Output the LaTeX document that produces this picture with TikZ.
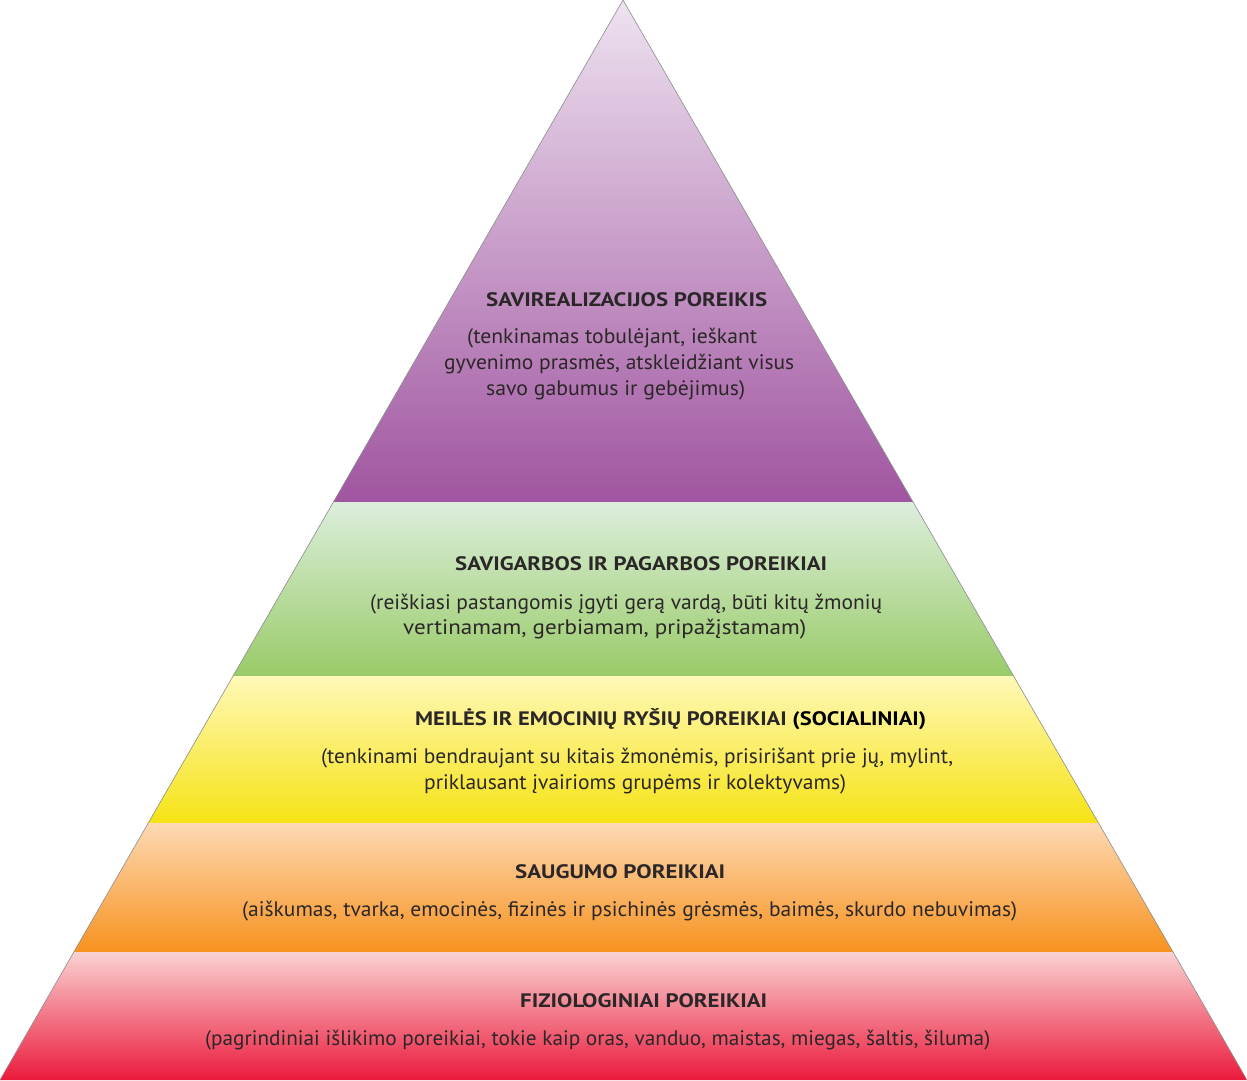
\documentclass[tikz,border=0pt]{standalone}
\usepackage{fontspec}
\setmainfont{PT Sans}
\definecolor{txt}{HTML}{2B2728}
\definecolor{purT}{HTML}{EEE2F0}
\definecolor{purB}{HTML}{A055A0}
\definecolor{grnT}{HTML}{DCEEDC}
\definecolor{grnB}{HTML}{99CB68}
\definecolor{yelT}{HTML}{FFF8B8}
\definecolor{yelB}{HTML}{F6E314}
\definecolor{ornT}{HTML}{FDD9B4}
\definecolor{ornB}{HTML}{F7921E}
\definecolor{redT}{HTML}{FAD2D2}
\definecolor{redB}{HTML}{EB1A3C}
\newcommand{\fitto}[2]{\resizebox{#1pt}{\height}{#2}}
\tikzset{
  body/.style={font=\fontsize{21}{25}\selectfont, text=txt, inner sep=0pt, anchor=west},
  title/.style={font=\fontsize{19.5}{23}\selectfont\bfseries, text=txt, inner sep=0pt, anchor=west},
  edge/.style={draw=black!45, line width=0.6pt}
}
\begin{document}
\begin{tikzpicture}[x=1pt,y=-1pt]
\useasboundingbox (0,0) rectangle (1247,1080);
\coordinate (apex) at (623,0);
\coordinate (bl) at (0,1080);
\coordinate (br) at (1247,1080);
\begin{scope}
\clip (apex) -- (br) -- (bl) -- cycle;
\shade[top color=purT, bottom color=purB] (0,0) rectangle (1247,502);
\shade[top color=grnT, bottom color=grnB] (0,502) rectangle (1247,676);
\shade[top color=yelT, bottom color=yelB] (0,676) rectangle (1247,823);
\shade[top color=ornT, bottom color=ornB] (0,823) rectangle (1247,952);
\shade[top color=redT, bottom color=redB] (0,952) rectangle (1247,1080);
\end{scope}
\draw[edge] (bl) -- (apex) -- (br);

% top layer
\node[title] (t1) at (486,300) {\fitto{281}{SAVIREALIZACIJOS POREIKIS}};
\node[body] (t1a) at (467,338) {\fitto{290}{(tenkinamas tobulėjant, ieškant}};
\node[body] (t1b) at (444,364) {\fitto{350}{gyvenimo prasmės, atskleidžiant visus}};
\node[body] (t1c) at (486,390) {\fitto{259}{savo gabumus ir gebėjimus)}};

% green layer
\node[title] (t2) at (455,564) {\fitto{372}{SAVIGARBOS IR PAGARBOS POREIKIAI}};
\node[body] (t2a) at (370,604) {\fitto{512}{(reiškiasi pastangomis įgyti gerą vardą, būti kitų žmonių}};
\node[body] (t2b) at (403,629) {\fitto{403}{vertinamam, gerbiamam, pripažįstamam)}};

% yellow layer
\node[title] (t3) at (415,719) {\fitto{511}{MEILĖS IR EMOCINIŲ RYŠIŲ POREIKIAI \textcolor{black}{(SOCIALINIAI)}}};
\node[body] (t3a) at (321,758) {\fitto{632}{(tenkinami bendraujant su kitais žmonėmis, prisirišant prie jų, mylint,}};
\node[body] (t3b) at (424,784) {\fitto{422}{priklausant įvairioms grupėms ir kolektyvams)}};

% orange layer
\node[title] (t4) at (515,872) {\fitto{210}{SAUGUMO POREIKIAI}};
\node[body] (t4a) at (242,911) {\fitto{775}{(aiškumas, tvarka, emocinės, fizinės ir psichinės grėsmės, baimės, skurdo nebuvimas)}};

% red layer
\node[title] (t5) at (520,1001) {\fitto{247}{FIZIOLOGINIAI POREIKIAI}};
\node[body] (t5a) at (205,1040) {\fitto{785}{(pagrindiniai išlikimo poreikiai, tokie kaip oras, vanduo, maistas, miegas, šaltis, šiluma)}};
\end{tikzpicture}
\end{document}
